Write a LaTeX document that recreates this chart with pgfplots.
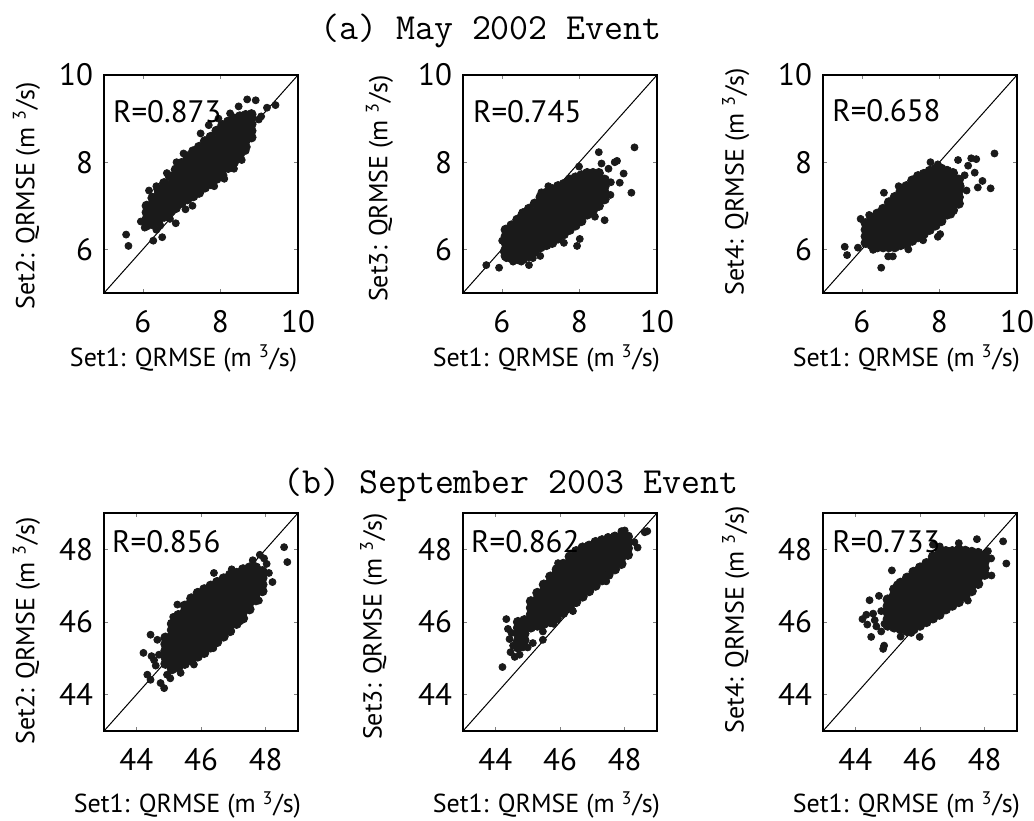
\documentclass[border=0pt]{standalone}
\usepackage{fontspec}
\setmainfont{PT Sans}
\usepackage{pgfplots}
\pgfplotsset{compat=1.18}
\definecolor{dotc}{HTML}{1A1A1A}
\newcommand{\labfont}{\fontsize{13}{15}\selectfont}
\pgfplotsset{
  panel/.style={width=97pt,height=109pt,scale only axis,anchor=south west,
    tick align=inside,major tick length=2pt,
    axis line style={line width=0.9pt},
    ticklabel style={font=\fontsize{15.5}{16}\selectfont},
    xticklabel style={yshift=-5pt},
    yticklabel style={xshift=-2pt},
    /pgf/number format/assume math mode=true,
    clip mode=individual},
  toprow/.style={panel,xmin=5,xmax=10,ymin=5,ymax=10,xtick={6,8,10},ytick={6,8,10}},
  botrow/.style={panel,xmin=43,xmax=49,ymin=43,ymax=49,xtick={44,46,48},ytick={44,46,48}},
  dots/.style={only marks,mark=*,mark size=1.75pt,color=dotc},
  core/.style={only marks,mark=*,mark size=2.35pt,color=dotc},
  diag/.style={black,line width=0.5pt}
}
\begin{document}
\begin{tikzpicture}
\path[use as bounding box] (0,0) rectangle (517pt,410pt);
\node[anchor=base west,inner sep=0,font=\ttfamily\fontsize{18.4}{20}\selectfont] at (160pt,390pt) {(a) May 2002 Event};
\node[anchor=base west,inner sep=0,font=\ttfamily\fontsize{18.4}{20}\selectfont] at (141.5pt,163pt) {(b) September 2003 Event};

% ---------- (a) Set2 vs Set1
\begin{axis}[toprow,at={(52pt,263.5pt)}]
\addplot[diag] coordinates {(5,5) (10,10)};
\addplot[core] coordinates {
(6.10,6.55)(6.10,6.70)(6.10,6.85)(6.10,7.00)
(6.25,6.58)(6.25,6.73)(6.25,6.88)(6.25,7.03)(6.25,7.18)
(6.40,6.65)(6.40,6.80)(6.40,6.95)(6.40,7.10)(6.40,7.25)(6.40,7.38)
(6.55,6.75)(6.55,6.90)(6.55,7.05)(6.55,7.20)(6.55,7.35)(6.55,7.52)
(6.70,6.87)(6.70,7.02)(6.70,7.17)(6.70,7.32)(6.70,7.47)(6.70,7.67)
(6.85,6.95)(6.85,7.10)(6.85,7.25)(6.85,7.40)(6.85,7.55)(6.85,7.70)(6.85,7.83)
(7.00,7.07)(7.00,7.22)(7.00,7.37)(7.00,7.52)(7.00,7.67)(7.00,7.82)(7.00,7.98)
(7.15,7.15)(7.15,7.30)(7.15,7.45)(7.15,7.60)(7.15,7.75)(7.15,7.90)(7.15,8.05)(7.15,8.13)
(7.30,7.22)(7.30,7.37)(7.30,7.52)(7.30,7.67)(7.30,7.82)(7.30,7.97)(7.30,8.12)(7.30,8.25)
(7.45,7.30)(7.45,7.45)(7.45,7.60)(7.45,7.75)(7.45,7.90)(7.45,8.05)(7.45,8.20)(7.45,8.35)
(7.60,7.42)(7.60,7.57)(7.60,7.72)(7.60,7.87)(7.60,8.02)(7.60,8.17)(7.60,8.32)(7.60,8.48)
(7.75,7.50)(7.75,7.65)(7.75,7.80)(7.75,7.95)(7.75,8.10)(7.75,8.25)(7.75,8.40)(7.75,8.58)
(7.90,7.62)(7.90,7.77)(7.90,7.92)(7.90,8.07)(7.90,8.22)(7.90,8.37)(7.90,8.52)(7.90,8.72)
(8.05,7.70)(8.05,7.85)(8.05,8.00)(8.05,8.15)(8.05,8.30)(8.05,8.45)(8.05,8.60)(8.05,8.75)(8.05,8.85)
(8.20,7.87)(8.20,8.02)(8.20,8.17)(8.20,8.32)(8.20,8.47)(8.20,8.62)(8.20,8.77)(8.20,8.93)
(8.35,8.00)(8.35,8.15)(8.35,8.30)(8.35,8.45)(8.35,8.60)(8.35,8.75)(8.35,8.90)(8.35,9.00)
(8.50,8.17)(8.50,8.32)(8.50,8.47)(8.50,8.62)(8.50,8.77)(8.50,8.92)(8.50,9.05)
(8.65,8.35)(8.65,8.50)(8.65,8.65)(8.65,8.80)(8.65,8.95)(8.65,9.08)
(8.80,8.57)(8.80,8.72)(8.80,8.87)(8.80,9.02)(8.80,9.10)
};
\addplot[dots] coordinates {
(5.57,6.34)(5.63,6.08)(6.27,6.20)(6.50,6.28)(5.95,6.64)(6.16,7.35)(6.85,6.60)(6.87,8.00)
(7.05,8.20)(8.69,9.44)(8.91,9.42)(9.42,9.31)(9.20,9.25)(8.47,9.28)(8.99,8.98)(8.78,8.55)
(8.65,8.26)(8.35,7.85)(7.84,7.45)(7.28,7.00)(6.45,6.55)(7.49,8.66)(7.95,9.00)(6.05,6.50)
(6.35,6.45)(6.70,6.70)(7.10,6.92)(8.10,7.62)(8.55,8.05)(9.05,9.05)(8.25,9.12)(7.70,8.85)
(6.62,7.75)(6.35,7.45)
};
\node[anchor=base west,inner sep=0,font=\fontsize{15.5}{16}\selectfont] at (axis description cs:0.045,0.78) {R=0.873};
\node[rotate=90,font=\labfont] at (axis description cs:-0.40,0.445) {Set2: QRMSE (m \textsuperscript{3}/s)};
\node[font=\labfont] at (axis description cs:0.41,-0.30) {Set1: QRMSE (m \textsuperscript{3}/s)};
\end{axis}

% ---------- (a) Set3 vs Set1
\begin{axis}[toprow,at={(231.5pt,263.5pt)}]
\addplot[diag] coordinates {(5,5) (10,10)};
\addplot[core] coordinates {
(6.10,5.85)(6.10,6.00)(6.10,6.15)(6.10,6.30)(6.10,6.45)
(6.25,5.80)(6.25,5.95)(6.25,6.10)(6.25,6.25)(6.25,6.40)(6.25,6.55)
(6.40,5.78)(6.40,5.93)(6.40,6.08)(6.40,6.23)(6.40,6.38)(6.40,6.53)(6.40,6.68)
(6.55,5.78)(6.55,5.93)(6.55,6.08)(6.55,6.23)(6.55,6.38)(6.55,6.53)(6.55,6.68)(6.55,6.83)
(6.70,5.85)(6.70,6.00)(6.70,6.15)(6.70,6.30)(6.70,6.45)(6.70,6.60)(6.70,6.75)(6.70,6.93)
(6.85,5.95)(6.85,6.10)(6.85,6.25)(6.85,6.40)(6.85,6.55)(6.85,6.70)(6.85,6.85)(6.85,7.05)
(7.00,6.05)(7.00,6.20)(7.00,6.35)(7.00,6.50)(7.00,6.65)(7.00,6.80)(7.00,6.95)(7.00,7.10)(7.00,7.20)
(7.15,6.10)(7.15,6.25)(7.15,6.40)(7.15,6.55)(7.15,6.70)(7.15,6.85)(7.15,7.00)(7.15,7.15)(7.15,7.30)
(7.30,6.15)(7.30,6.30)(7.30,6.45)(7.30,6.60)(7.30,6.75)(7.30,6.90)(7.30,7.05)(7.30,7.20)(7.30,7.38)
(7.45,6.25)(7.45,6.40)(7.45,6.55)(7.45,6.70)(7.45,6.85)(7.45,7.00)(7.45,7.15)(7.45,7.30)(7.45,7.45)
(7.60,6.35)(7.60,6.50)(7.60,6.65)(7.60,6.80)(7.60,6.95)(7.60,7.10)(7.60,7.25)(7.60,7.40)(7.60,7.50)
(7.75,6.45)(7.75,6.60)(7.75,6.75)(7.75,6.90)(7.75,7.05)(7.75,7.20)(7.75,7.35)(7.75,7.50)(7.75,7.60)
(7.90,6.55)(7.90,6.70)(7.90,6.85)(7.90,7.00)(7.90,7.15)(7.90,7.30)(7.90,7.45)(7.90,7.60)(7.90,7.65)
(8.05,6.65)(8.05,6.80)(8.05,6.95)(8.05,7.10)(8.05,7.25)(8.05,7.40)(8.05,7.55)(8.05,7.70)
(8.20,6.80)(8.20,6.95)(8.20,7.10)(8.20,7.25)(8.20,7.40)(8.20,7.55)(8.20,7.70)(8.20,7.75)
(8.35,6.90)(8.35,7.05)(8.35,7.20)(8.35,7.35)(8.35,7.50)(8.35,7.65)(8.35,7.75)
(8.50,7.00)(8.50,7.15)(8.50,7.30)(8.50,7.45)(8.50,7.60)(8.50,7.75)
(8.65,7.15)(8.65,7.30)(8.65,7.45)(8.65,7.60)
};
\addplot[dots] coordinates {
(5.60,5.64)(5.93,5.58)(6.01,6.20)(6.50,6.79)(7.02,7.31)(7.99,7.90)(8.50,8.23)(8.57,7.97)
(8.91,8.00)(8.97,8.03)(9.42,8.34)(9.34,7.30)(9.14,7.74)(9.04,7.53)(8.81,7.54)(8.65,6.67)
(7.94,6.08)(8.01,6.24)(6.70,5.64)(6.80,5.80)(6.99,5.85)(6.12,5.80)(6.29,5.72)(6.50,5.72)
(8.75,7.85)(8.80,7.25)(7.20,7.45)(7.60,6.15)(6.05,5.95)(8.40,6.75)
};
\node[anchor=base west,inner sep=0,font=\fontsize{15.5}{16}\selectfont] at (axis description cs:0.05,0.78) {R=0.745};
\node[rotate=90,font=\labfont] at (axis description cs:-0.43,0.48) {Set3: QRMSE (m \textsuperscript{3}/s)};
\node[font=\labfont] at (axis description cs:0.43,-0.30) {Set1: QRMSE (m \textsuperscript{3}/s)};
\end{axis}

% ---------- (a) Set4 vs Set1
\begin{axis}[toprow,at={(411.5pt,263.5pt)}]
\addplot[diag] coordinates {(5,5) (10,10)};
\addplot[core] coordinates {
(6.10,6.15)(6.10,6.30)(6.10,6.45)(6.10,6.60)
(6.25,6.10)(6.25,6.25)(6.25,6.40)(6.25,6.55)(6.25,6.72)
(6.40,6.05)(6.40,6.20)(6.40,6.35)(6.40,6.50)(6.40,6.65)(6.40,6.82)
(6.55,6.05)(6.55,6.20)(6.55,6.35)(6.55,6.50)(6.55,6.65)(6.55,6.80)(6.55,6.93)
(6.70,6.05)(6.70,6.20)(6.70,6.35)(6.70,6.50)(6.70,6.65)(6.70,6.80)(6.70,6.95)(6.70,7.08)
(6.85,6.05)(6.85,6.20)(6.85,6.35)(6.85,6.50)(6.85,6.65)(6.85,6.80)(6.85,6.95)(6.85,7.10)(6.85,7.20)
(7.00,6.10)(7.00,6.25)(7.00,6.40)(7.00,6.55)(7.00,6.70)(7.00,6.85)(7.00,7.00)(7.00,7.15)(7.00,7.33)
(7.15,6.12)(7.15,6.27)(7.15,6.42)(7.15,6.57)(7.15,6.72)(7.15,6.87)(7.15,7.02)(7.15,7.17)(7.15,7.32)(7.15,7.45)
(7.30,6.20)(7.30,6.35)(7.30,6.50)(7.30,6.65)(7.30,6.80)(7.30,6.95)(7.30,7.10)(7.30,7.25)(7.30,7.40)(7.30,7.58)
(7.45,6.28)(7.45,6.43)(7.45,6.58)(7.45,6.73)(7.45,6.88)(7.45,7.03)(7.45,7.18)(7.45,7.33)(7.45,7.48)(7.45,7.68)
(7.60,6.36)(7.60,6.51)(7.60,6.66)(7.60,6.81)(7.60,6.96)(7.60,7.11)(7.60,7.26)(7.60,7.41)(7.60,7.56)(7.60,7.73)
(7.75,6.45)(7.75,6.60)(7.75,6.75)(7.75,6.90)(7.75,7.05)(7.75,7.20)(7.75,7.35)(7.75,7.50)(7.75,7.65)(7.75,7.80)
(7.90,6.55)(7.90,6.70)(7.90,6.85)(7.90,7.00)(7.90,7.15)(7.90,7.30)(7.90,7.45)(7.90,7.60)(7.90,7.75)(7.90,7.85)
(8.05,6.65)(8.05,6.80)(8.05,6.95)(8.05,7.10)(8.05,7.25)(8.05,7.40)(8.05,7.55)(8.05,7.70)(8.05,7.85)
(8.20,6.80)(8.20,6.95)(8.20,7.10)(8.20,7.25)(8.20,7.40)(8.20,7.55)(8.20,7.70)(8.20,7.80)
(8.35,6.90)(8.35,7.05)(8.35,7.20)(8.35,7.35)(8.35,7.50)(8.35,7.65)(8.35,7.75)
(8.50,7.05)(8.50,7.20)(8.50,7.35)(8.50,7.50)(8.50,7.60)
};
\addplot[dots] coordinates {
(5.56,6.06)(5.62,5.87)(5.90,6.04)(5.97,6.70)(6.50,5.58)(6.68,5.84)(6.80,5.84)(6.57,7.30)
(7.77,8.00)(7.96,7.95)(8.48,8.05)(8.74,7.92)(8.82,8.09)(8.95,8.07)(9.42,8.20)(9.11,7.57)
(9.32,7.40)(8.99,7.42)(8.91,7.76)(7.96,6.29)(8.02,6.35)(7.58,6.21)(6.29,5.99)(6.19,6.79)
(8.65,7.70)(8.70,7.35)(8.55,7.45)(6.95,7.45)(7.20,6.00)(8.30,6.80)
};
\node[anchor=base west,inner sep=0,font=\fontsize{15.5}{16}\selectfont] at (axis description cs:0.046,0.785) {R=0.658};
\node[rotate=90,font=\labfont] at (axis description cs:-0.45,0.51) {Set4: QRMSE (m \textsuperscript{3}/s)};
\node[font=\labfont] at (axis description cs:0.43,-0.30) {Set1: QRMSE (m \textsuperscript{3}/s)};
\end{axis}

% ---------- (b) Set2 vs Set1
\begin{axis}[botrow,at={(52pt,44.5pt)}]
\addplot[diag] coordinates {(43,43) (49,49)};
\addplot[core] coordinates {
(44.9,44.85)(44.9,45.03)(44.9,45.21)(44.9,45.39)(44.9,45.57)
(45.1,44.70)(45.1,44.88)(45.1,45.06)(45.1,45.24)(45.1,45.42)(45.1,45.60)(45.1,45.78)(45.1,45.95)
(45.3,44.75)(45.3,44.93)(45.3,45.11)(45.3,45.29)(45.3,45.47)(45.3,45.65)(45.3,45.83)(45.3,46.01)(45.3,46.19)
(45.5,44.85)(45.5,45.03)(45.5,45.21)(45.5,45.39)(45.5,45.57)(45.5,45.75)(45.5,45.93)(45.5,46.11)(45.5,46.29)(45.5,46.45)
(45.7,44.95)(45.7,45.13)(45.7,45.31)(45.7,45.49)(45.7,45.67)(45.7,45.85)(45.7,46.03)(45.7,46.21)(45.7,46.39)(45.7,46.57)(45.7,46.65)
(45.9,45.05)(45.9,45.23)(45.9,45.41)(45.9,45.59)(45.9,45.77)(45.9,45.95)(45.9,46.13)(45.9,46.31)(45.9,46.49)(45.9,46.67)(45.9,46.80)
(46.1,45.15)(46.1,45.33)(46.1,45.51)(46.1,45.69)(46.1,45.87)(46.1,46.05)(46.1,46.23)(46.1,46.41)(46.1,46.59)(46.1,46.77)(46.1,46.90)
(46.3,45.30)(46.3,45.48)(46.3,45.66)(46.3,45.84)(46.3,46.02)(46.3,46.20)(46.3,46.38)(46.3,46.56)(46.3,46.74)(46.3,46.92)(46.3,47.00)
(46.5,45.45)(46.5,45.63)(46.5,45.81)(46.5,45.99)(46.5,46.17)(46.5,46.35)(46.5,46.53)(46.5,46.71)(46.5,46.89)(46.5,47.07)(46.5,47.10)
(46.7,45.60)(46.7,45.78)(46.7,45.96)(46.7,46.14)(46.7,46.32)(46.7,46.50)(46.7,46.68)(46.7,46.86)(46.7,47.04)(46.7,47.20)
(46.9,45.75)(46.9,45.93)(46.9,46.11)(46.9,46.29)(46.9,46.47)(46.9,46.65)(46.9,46.83)(46.9,47.01)(46.9,47.19)(46.9,47.30)
(47.1,45.95)(47.1,46.13)(47.1,46.31)(47.1,46.49)(47.1,46.67)(47.1,46.85)(47.1,47.03)(47.1,47.21)(47.1,47.35)
(47.3,46.10)(47.3,46.28)(47.3,46.46)(47.3,46.64)(47.3,46.82)(47.3,47.00)(47.3,47.18)(47.3,47.36)(47.3,47.45)
(47.5,46.35)(47.5,46.53)(47.5,46.71)(47.5,46.89)(47.5,47.07)(47.5,47.25)(47.5,47.43)(47.5,47.50)
(47.7,46.60)(47.7,46.78)(47.7,46.96)(47.7,47.14)(47.7,47.32)(47.7,47.50)
(47.9,46.85)(47.9,47.03)(47.9,47.21)(47.9,47.40)
};
\addplot[dots] coordinates {
(44.22,45.15)(44.47,45.06)(44.44,45.65)(44.65,45.51)(44.34,44.55)(44.44,44.41)(44.75,44.32)(44.86,44.18)
(45.27,46.48)(45.14,46.14)(46.40,47.35)(47.82,47.85)(48.57,48.06)(48.67,47.65)(48.21,47.10)(48.03,47.60)
(47.79,46.59)(47.21,46.02)(45.37,44.60)(45.78,44.83)(46.38,45.28)(44.60,44.80)(44.70,45.10)(44.55,44.95)
(48.10,47.35)(47.95,47.75)(47.60,47.70)(46.95,47.45)(44.95,44.55)(45.05,44.45)
};
\node[anchor=base west,inner sep=0,font=\fontsize{15.5}{16}\selectfont] at (axis description cs:0.04,0.817) {R=0.856};
\node[rotate=90,font=\labfont] at (axis description cs:-0.40,0.46) {Set2: QRMSE (m \textsuperscript{3}/s)};
\node[font=\labfont] at (axis description cs:0.43,-0.34) {Set1: QRMSE (m \textsuperscript{3}/s)};
\end{axis}

% ---------- (b) Set3 vs Set1
\begin{axis}[botrow,at={(231.5pt,44.5pt)}]
\addplot[diag] coordinates {(43,43) (49,49)};
\addplot[core] coordinates {
(44.7,45.30)(44.7,45.48)(44.7,45.66)(44.7,45.84)(44.7,46.00)
(44.9,45.50)(44.9,45.68)(44.9,45.86)(44.9,46.05)
(45.1,45.85)(45.1,46.03)(45.1,46.21)(45.1,46.39)(45.1,46.57)
(45.3,45.90)(45.3,46.08)(45.3,46.26)(45.3,46.44)(45.3,46.62)(45.3,46.80)
(45.5,45.95)(45.5,46.13)(45.5,46.31)(45.5,46.49)(45.5,46.67)(45.5,46.85)(45.5,47.03)
(45.7,46.00)(45.7,46.18)(45.7,46.36)(45.7,46.54)(45.7,46.72)(45.7,46.90)(45.7,47.08)(45.7,47.25)
(45.9,46.10)(45.9,46.28)(45.9,46.46)(45.9,46.64)(45.9,46.82)(45.9,47.00)(45.9,47.18)(45.9,47.36)(45.9,47.45)
(46.1,46.25)(46.1,46.43)(46.1,46.61)(46.1,46.79)(46.1,46.97)(46.1,47.15)(46.1,47.33)(46.1,47.51)(46.1,47.60)
(46.3,46.40)(46.3,46.58)(46.3,46.76)(46.3,46.94)(46.3,47.12)(46.3,47.30)(46.3,47.48)(46.3,47.66)(46.3,47.80)
(46.5,46.55)(46.5,46.73)(46.5,46.91)(46.5,47.09)(46.5,47.27)(46.5,47.45)(46.5,47.63)(46.5,47.81)(46.5,47.95)
(46.7,46.70)(46.7,46.88)(46.7,47.06)(46.7,47.24)(46.7,47.42)(46.7,47.60)(46.7,47.78)(46.7,47.96)(46.7,48.05)
(46.9,46.85)(46.9,47.03)(46.9,47.21)(46.9,47.39)(46.9,47.57)(46.9,47.75)(46.9,47.93)(46.9,48.10)
(47.1,47.00)(47.1,47.18)(47.1,47.36)(47.1,47.54)(47.1,47.72)(47.1,47.90)(47.1,48.08)(47.1,48.20)
(47.3,47.15)(47.3,47.33)(47.3,47.51)(47.3,47.69)(47.3,47.87)(47.3,48.05)(47.3,48.25)
(47.5,47.30)(47.5,47.48)(47.5,47.66)(47.5,47.84)(47.5,48.02)(47.5,48.20)(47.5,48.30)
(47.7,47.45)(47.7,47.63)(47.7,47.81)(47.7,47.99)(47.7,48.17)(47.7,48.35)
(47.9,47.60)(47.9,47.78)(47.9,47.96)(47.9,48.14)(47.9,48.35)
(48.1,47.85)(48.1,48.03)(48.1,48.21)(48.1,48.35)
};
\addplot[dots] coordinates {
(44.22,44.76)(44.34,46.08)(44.39,45.81)(44.44,45.53)(44.47,45.17)(44.60,45.04)(44.75,45.10)(44.70,45.93)
(44.96,45.83)(45.16,45.42)(45.47,45.51)(45.47,45.74)(45.94,47.62)(47.43,47.12)(47.81,47.61)(47.90,48.50)
(48.00,48.52)(48.62,48.47)(48.70,48.50)(47.48,48.34)(44.55,45.35)(44.85,45.30)(48.30,48.20)(48.40,48.05)
(45.80,45.95)(46.40,46.30)(44.50,45.70)(45.00,45.30)
};
\node[anchor=base west,inner sep=0,font=\fontsize{15.5}{16}\selectfont] at (axis description cs:0.04,0.817) {R=0.862};
\node[rotate=90,font=\labfont] at (axis description cs:-0.46,0.48) {Set3: QRMSE (m \textsuperscript{3}/s)};
\node[font=\labfont] at (axis description cs:0.43,-0.34) {Set1: QRMSE (m \textsuperscript{3}/s)};
\end{axis}

% ---------- (b) Set4 vs Set1
\begin{axis}[botrow,at={(411.5pt,44.5pt)}]
\addplot[diag] coordinates {(43,43) (49,49)};
\addplot[core] coordinates {
(45.0,45.90)(45.0,46.08)(45.0,46.26)(45.0,46.44)(45.0,46.62)
(45.2,45.85)(45.2,46.03)(45.2,46.21)(45.2,46.39)(45.2,46.57)(45.2,46.75)(45.2,46.90)
(45.4,45.80)(45.4,45.98)(45.4,46.16)(45.4,46.34)(45.4,46.52)(45.4,46.70)(45.4,46.88)(45.4,47.08)
(45.6,45.75)(45.6,45.93)(45.6,46.11)(45.6,46.29)(45.6,46.47)(45.6,46.65)(45.6,46.83)(45.6,47.01)(45.6,47.22)
(45.8,45.80)(45.8,45.98)(45.8,46.16)(45.8,46.34)(45.8,46.52)(45.8,46.70)(45.8,46.88)(45.8,47.06)(45.8,47.24)(45.8,47.38)
(46.0,45.90)(46.0,46.08)(46.0,46.26)(46.0,46.44)(46.0,46.62)(46.0,46.80)(46.0,46.98)(46.0,47.16)(46.0,47.34)(46.0,47.50)
(46.2,46.00)(46.2,46.18)(46.2,46.36)(46.2,46.54)(46.2,46.72)(46.2,46.90)(46.2,47.08)(46.2,47.26)(46.2,47.44)(46.2,47.62)
(46.4,46.10)(46.4,46.28)(46.4,46.46)(46.4,46.64)(46.4,46.82)(46.4,47.00)(46.4,47.18)(46.4,47.36)(46.4,47.54)(46.4,47.72)(46.4,47.80)
(46.6,46.20)(46.6,46.38)(46.6,46.56)(46.6,46.74)(46.6,46.92)(46.6,47.10)(46.6,47.28)(46.6,47.46)(46.6,47.64)(46.6,47.82)(46.6,47.90)
(46.8,46.35)(46.8,46.53)(46.8,46.71)(46.8,46.89)(46.8,47.07)(46.8,47.25)(46.8,47.43)(46.8,47.61)(46.8,47.79)(46.8,47.95)
(47.0,46.45)(47.0,46.63)(47.0,46.81)(47.0,46.99)(47.0,47.17)(47.0,47.35)(47.0,47.53)(47.0,47.71)(47.0,47.89)(47.0,47.95)
(47.2,46.55)(47.2,46.73)(47.2,46.91)(47.2,47.09)(47.2,47.27)(47.2,47.45)(47.2,47.63)(47.2,47.81)(47.2,47.99)
(47.4,46.70)(47.4,46.88)(47.4,47.06)(47.4,47.24)(47.4,47.42)(47.4,47.60)(47.4,47.78)(47.4,47.96)
(47.6,46.85)(47.6,47.03)(47.6,47.21)(47.6,47.39)(47.6,47.57)(47.6,47.75)(47.6,47.93)
(47.8,47.05)(47.8,47.23)(47.8,47.41)(47.8,47.59)(47.8,47.77)(47.8,47.90)
(48.0,47.30)(48.0,47.48)(48.0,47.66)(48.0,47.84)
};
\addplot[dots] coordinates {
(44.22,46.08)(44.34,46.20)(44.55,46.23)(44.44,46.60)(44.73,46.72)(44.37,45.93)(44.65,45.88)(44.49,45.59)
(44.80,45.74)(44.89,45.35)(44.86,45.26)(45.13,47.42)(45.29,47.03)(45.73,45.70)(45.99,45.59)(46.40,48.13)
(46.61,48.08)(47.20,48.17)(47.76,48.28)(48.57,48.22)(48.67,47.61)(48.21,47.28)(47.79,47.03)(47.48,46.59)
(44.60,46.05)(44.80,46.30)(44.90,45.95)(48.20,47.75)(48.10,47.95)(45.40,45.60)
};
\node[anchor=base west,inner sep=0,font=\fontsize{15.5}{16}\selectfont] at (axis description cs:0.046,0.817) {R=0.733};
\node[rotate=90,font=\labfont] at (axis description cs:-0.45,0.51) {Set4: QRMSE (m \textsuperscript{3}/s)};
\node[font=\labfont] at (axis description cs:0.43,-0.34) {Set1: QRMSE (m \textsuperscript{3}/s)};
\end{axis}
\end{tikzpicture}
\end{document}
